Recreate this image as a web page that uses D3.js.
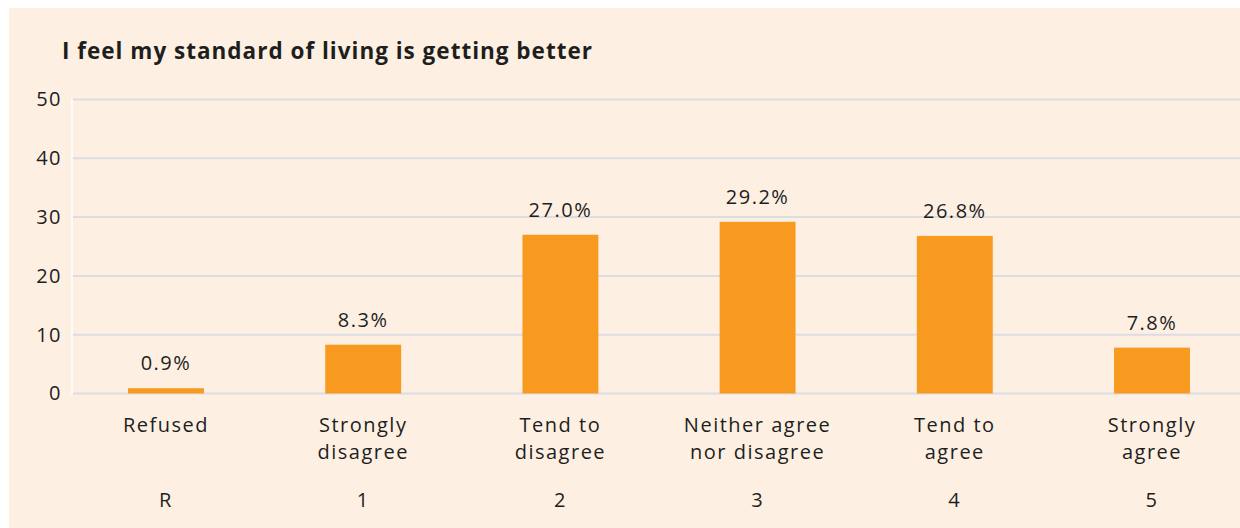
<!DOCTYPE html>
<html><head><meta charset="utf-8">
<script src="https://cdn.jsdelivr.net/npm/d3@7"></script>
<style>
html,body{margin:0;padding:0;background:#fff;}
svg{display:block;}
text{font-family:"Open Sans","Noto Sans",sans-serif;fill:#1e1e1e;}
</style></head>
<body>
<svg id="c" width="1240" height="528"></svg>
<script>
const title = "I feel my standard of living is getting better";
const categories = ["Refused", "Strongly disagree", "Tend to disagree", "Neither agree nor disagree", "Tend to agree", "Strongly agree"];
const categoryLines = [["Refused"], ["Strongly", "disagree"], ["Tend to", "disagree"], ["Neither agree", "nor disagree"], ["Tend to", "agree"], ["Strongly", "agree"]];
const codes = ["R", "1", "2", "3", "4", "5"];
const values = [0.9, 8.3, 27.0, 29.2, 26.8, 7.8];
const yTicks = [0, 10, 20, 30, 40, 50];

const svg = d3.select("#c");
svg.append("rect").attr("x", 9).attr("y", 8).attr("width", 1231).attr("height", 520).attr("fill", "#fdf0e2");

const x = d3.scaleBand().domain(categories).range([67.4, 1250.6]).paddingInner(0.615).paddingOuter(0.3075);
const y = d3.scaleLinear().domain([0, 50]).range([393.5, 99.5]);

svg.append("text").attr("x", 62).attr("y", 59).attr("font-size", 22.5).attr("font-weight", 700)
  .attr("letter-spacing", 1.0).text(title);

// gridlines
const grid = svg.append("g");
grid.selectAll("line").data(yTicks).join("line")
  .attr("x1", 72).attr("x2", 1240)
  .attr("y1", d => y(d)).attr("y2", d => y(d))
  .attr("stroke", "#dcdde2").attr("stroke-width", 2);
svg.append("line").attr("x1", 72).attr("x2", 72).attr("y1", y(50) - 1).attr("y2", y(0) + 1)
  .attr("stroke", "#ffffff").attr("stroke-width", 1.5);

const FS = 20, LS = 1.5;

// y axis labels
const yAxis = d3.axisLeft(y).tickValues(yTicks).tickSize(0).tickPadding(10);
const ga = svg.append("g").attr("transform", "translate(72,0)").call(yAxis);
ga.select(".domain").remove();
ga.selectAll("text").attr("font-size", FS).attr("letter-spacing", LS).attr("fill", "#1e1e1e")
  .attr("font-family", '"Open Sans","Noto Sans",sans-serif');

// bars
svg.append("g").selectAll("rect").data(values).join("rect")
  .attr("x", (d, i) => x(categories[i]))
  .attr("width", x.bandwidth())
  .attr("y", d => y(d))
  .attr("height", d => y(0) - y(d))
  .attr("fill", "#f99a20");

// value labels
svg.append("g").selectAll("text").data(values).join("text")
  .attr("x", (d, i) => x(categories[i]) + x.bandwidth() / 2)
  .attr("y", d => y(d) - 18)
  .attr("text-anchor", "middle").attr("font-size", FS).attr("letter-spacing", LS)
  .text(d => d.toFixed(1) + "%");

// category labels
const cl = svg.append("g").selectAll("text").data(categoryLines).join("text")
  .attr("x", (d, i) => x(categories[i]) + x.bandwidth() / 2)
  .attr("y", 432)
  .attr("text-anchor", "middle").attr("font-size", FS).attr("letter-spacing", LS);
cl.selectAll("tspan").data(d => d).join("tspan")
  .attr("x", function () { return this.parentNode.getAttribute("x"); })
  .attr("dy", (d, i) => i === 0 ? 0 : 27)
  .text(d => d);

// codes
svg.append("g").selectAll("text").data(codes).join("text")
  .attr("x", (d, i) => x(categories[i]) + x.bandwidth() / 2)
  .attr("y", 507)
  .attr("text-anchor", "middle").attr("font-size", FS).attr("letter-spacing", LS)
  .text(d => d);
</script>
</body></html>
